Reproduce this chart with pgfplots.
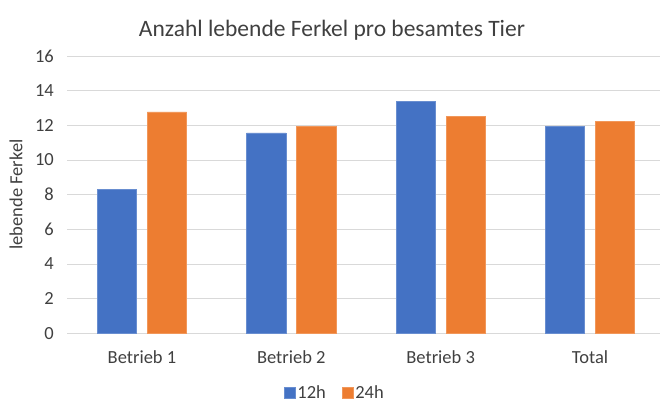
\documentclass[border=0pt]{standalone}
\usepackage{pgfplots}
\pgfplotsset{compat=1.18}
\usepackage{fontspec}
\setmainfont{Carlito}
\definecolor{blu}{HTML}{4472C4}
\definecolor{ora}{HTML}{ED7D31}
\definecolor{grd}{HTML}{D9D9D9}
\definecolor{txt}{HTML}{404040}
\begin{document}
\begin{tikzpicture}[x=1pt,y=1pt]
\path[use as bounding box] (0,0) rectangle (660,403);
\begin{axis}[
  at={(67.3pt,69.7pt)}, anchor=south west,
  scale only axis, width=597.4pt, height=277.3pt,
  xmin=-0.5, xmax=3.5, ymin=0, ymax=16,
  xtick={0,1,2,3}, xticklabels={Betrieb 1,Betrieb 2,Betrieb 3,Total},
  ytick={0,2,...,16},
  major tick length=0pt,
  axis line style={draw=none},
  ymajorgrids, grid style={grd, line width=0.9pt},
  /pgf/number format/assume math mode=true,
  tick label style={font=\fontsize{18.5}{20}\selectfont, text=txt},
  yticklabel style={xshift=-10pt},
  xticklabel style={yshift=-14pt},
  ybar, bar width=39.3pt,
  legend style={at={(0.448,-0.215)}, anchor=center, draw=none, fill=none,
    legend columns=2, font=\fontsize{18.5}{20}\selectfont, text=txt,
    /tikz/every even column/.style={column sep=14pt}},
  legend image code/.code={\fill[#1] (0pt,-5.5pt) rectangle (11pt,5.5pt);},
]
\addplot[fill=blu, draw=blu!80!white, bar shift=-25pt] coordinates {(0,8.29) (1,11.56) (2,13.38) (3,11.96)};
\addlegendentry{12h}
\addplot[fill=ora, draw=ora!80!white, bar shift=25pt] coordinates {(0,12.77) (1,11.96) (2,12.5) (3,12.24)};
\addlegendentry{24h}
\end{axis}
\node[font=\fontsize{23.5}{26}\selectfont, text=txt] at (332,373) {Anzahl lebende Ferkel pro besamtes Tier};
\node[font=\fontsize{18.5}{20}\selectfont, text=txt, rotate=90] at (16,208.5) {lebende Ferkel};
\end{tikzpicture}
\end{document}
